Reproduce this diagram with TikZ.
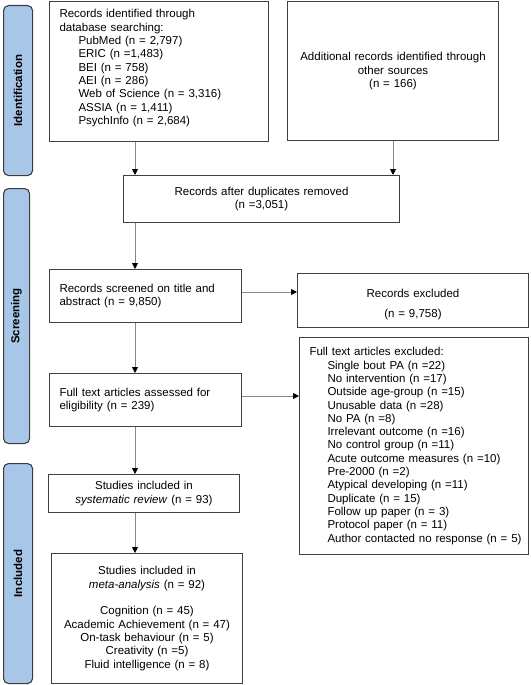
\documentclass[tikz,border=0pt]{standalone}
\usepackage{fontspec}
\setmainfont{Liberation Sans}
\usetikzlibrary{arrows.meta,calc}
\definecolor{sidefill}{RGB}{168,198,232}
\definecolor{sideline}{RGB}{60,60,60}
\definecolor{boxline}{RGB}{64,64,64}
\definecolor{arrline}{RGB}{135,135,135}
\begin{document}
\begin{tikzpicture}[x=1pt,y=-1pt,
  font=\fontsize{11.5}{13.3}\selectfont,
  box/.style={draw=boxline,line width=1pt,inner ysep=0pt,anchor=north west},
  lbox/.style={box,align=left,inner xsep=10pt},
  cbox/.style={box,align=center,inner xsep=4pt},
  side/.style={draw=sideline,fill=sidefill,rounded corners=5pt,line width=1.1pt,anchor=north west,inner sep=0pt},
  sidelabel/.style={font=\fontsize{11.5}{13}\selectfont\bfseries,rotate=90},
  arr/.style={draw=arrline,line width=0.9pt,-{Triangle[length=6pt,width=6pt,fill=black,color=black]}}]
\useasboundingbox (0,0) rectangle (530,685);
% side bars
\node[side,minimum width=29pt,minimum height=170pt] (sid) at (3,5) {};
\node[sidelabel] (sidl) at (sid.center) {Identification};
\node[side,minimum width=26pt,minimum height=255pt] (sscr) at (3,188) {};
\node[sidelabel] (sscrl) at (sscr.center) {Screening};
\node[side,minimum width=29pt,minimum height=220pt] (sinc) at (3,463) {};
\node[sidelabel] (sincl) at (sinc.center) {Included};
% boxes
\node[lbox,text width=199pt,minimum height=139pt] (b1) at (49,1.5) {Records identified through\\
database searching:\\
\hspace*{19pt}PubMed (n = 2,797)\\
\hspace*{19pt}ERIC (n =1,483)\\
\hspace*{19pt}BEI (n = 758)\\
\hspace*{19pt}AEI (n = 286)\\
\hspace*{19pt}Web of Science (n = 3,316)\\
\hspace*{19pt}ASSIA (n = 1,411)\\
\hspace*{19pt}PsychInfo (n = 2,684)\rule[-9pt]{0pt}{9pt}};
\node[cbox,text width=203pt,minimum height=138.5pt] (b2) at (287,1.5) {Additional records identified through\\ other sources\\ (n = 166)};
\node[cbox,text width=268pt,minimum height=47pt] (b3) at (123,175) {Records after duplicates removed\\ (n =3,051)};
\node[lbox,text width=172pt,minimum height=53pt] (b4) at (49,269) {Records screened on title and\\ abstract (n = 9,850)};
\node[cbox,text width=223pt,minimum height=54pt] (b5) at (297,273) {\rule{0pt}{16pt}Records excluded\\[6.7pt] (n = 9,758)};
\node[lbox,text width=172pt,minimum height=53pt] (b6) at (49,373) {Full text articles assessed for\\ eligibility (n = 239)};
\node[lbox,text width=209pt,minimum height=217pt] (b7) at (299,337) {Full text articles excluded:\\
\hspace*{18pt}Single bout PA (n =22)\\
\hspace*{18pt}No intervention (n =17)\\
\hspace*{18pt}Outside age-group (n =15)\\
\hspace*{18pt}Unusable data (n =28)\\
\hspace*{18pt}No PA (n =8)\\
\hspace*{18pt}Irrelevant outcome (n =16)\\
\hspace*{18pt}No control group (n =11)\\
\hspace*{18pt}Acute outcome measures (n =10)\\
\hspace*{18pt}Pre-2000 (n =2)\\
\hspace*{18pt}Atypical developing (n =11)\\
\hspace*{18pt}Duplicate (n = 15)\\
\hspace*{18pt}Follow up paper (n = 3)\\
\hspace*{18pt}Protocol paper (n = 11)\\
\hspace*{18pt}\mbox{Author contacted no response (n = 5)}};
\node[cbox,text width=183pt,minimum height=38pt] (b8) at (48,474) {Studies included in\\ \textit{systematic review} (n = 93)};
\node[cbox,text width=183pt,minimum height=130pt] (b9) at (51,553) {Studies included in\\ \textit{meta-analysis} (n = 92)\\[13.3pt]
Cognition (n = 45)\\ Academic Achievement (n = 47)\\ On-task behaviour (n = 5)\\ Creativity (n =5)\\ Fluid intelligence (n = 8)};
% connectors
\coordinate (ax) at (135,0);
\coordinate (ay1) at (0,292);
\coordinate (ay2) at (0,396);
\draw[arr] (b1.south -| ax) -- (b3.north -| ax);
\draw[arr] (b2.south) -- (b3.north -| b2.south);
\draw[arr] (b3.south -| ax) -- (b4.north -| ax);
\draw[arr] (b4.east |- ay1) -- (b5.west |- ay1);
\draw[arr] (b4.south -| ax) -- (b6.north -| ax);
\draw[arr] (b6.east |- ay2) -- (b7.west |- ay2);
\draw[arr] (b6.south -| ax) -- (b8.north -| ax);
\draw[arr] (b8.south -| ax) -- (b9.north -| ax);
\end{tikzpicture}
\end{document}
